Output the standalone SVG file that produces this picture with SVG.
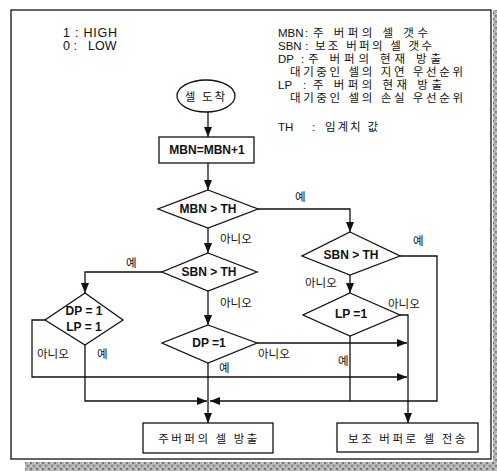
<svg xmlns="http://www.w3.org/2000/svg" width="497" height="471" viewBox="0 0 497 471">
<defs>
<marker id="ah" viewBox="0 0 10 8" refX="10" refY="4" markerWidth="10" markerHeight="8" markerUnits="userSpaceOnUse" orient="auto">
<path d="M0,0 L10,4 L0,8 Z" fill="#111"/>
</marker>
<pattern id="grain" width="6" height="6" patternUnits="userSpaceOnUse">
<rect width="6" height="6" fill="#b4b4b4"/>
<rect x="0" y="0" width="2" height="2" fill="#777"/>
<rect x="3" y="3" width="2" height="2" fill="#888"/>
<rect x="4" y="1" width="1" height="1" fill="#e0e0e0"/>
<rect x="1" y="4" width="1" height="1" fill="#dcdcdc"/>
</pattern>
</defs>
<style>
.t{font-family:"Liberation Sans","Noto Sans CJK KR",sans-serif;font-size:11.5px;fill:#111}
.h{font-family:"Liberation Sans",sans-serif;font-size:12.5px;fill:#111}
.b{font-family:"Liberation Sans","Noto Sans CJK KR",sans-serif;font-size:12px;font-weight:bold;fill:#111}
.l{font-family:"Noto Sans CJK KR","Liberation Sans",sans-serif;font-size:11.5px;fill:#111}
.s{fill:#fff;stroke:#111;stroke-width:1.3}
.c{fill:none;stroke:#111;stroke-width:1.3}
.a{marker-end:url(#ah)}
</style>
<rect width="497" height="471" fill="#fff"/>
<rect x="25" y="462" width="472" height="9" fill="url(#grain)"/>
<rect x="493" y="10" width="4" height="461" fill="url(#grain)"/>
<rect x="11" y="10" width="480" height="449" fill="none" stroke="#111" stroke-width="1.3"/>

<g id="legend">
<text class="h" x="63" y="37" textLength="54" lengthAdjust="spacing">1 : HIGH</text>
<text class="h" x="63" y="50">0 :</text><text class="h" x="88" y="50">LOW</text>
<text class="t" x="278" y="37">MBN</text><text class="t" x="305" y="37">:</text><text class="t" x="313" y="37" textLength="115" lengthAdjust="spacing">주 버퍼의 셀 갯수</text>
<text class="t" x="278" y="50">SBN</text><text class="t" x="305" y="50">:</text><text class="t" x="315" y="50" textLength="117" lengthAdjust="spacing">보조 버퍼의 셀 갯수</text>
<text class="t" x="278" y="63">DP</text><text class="t" x="301" y="63">:</text><text class="t" x="308" y="63" textLength="133" lengthAdjust="spacing">주 버퍼의 현재 방출</text>
<text class="t" x="290" y="76" textLength="173" lengthAdjust="spacing">대기중인 셀의 지연 우선순위</text>
<text class="t" x="278" y="89">LP</text><text class="t" x="303" y="89">:</text><text class="t" x="313" y="89" textLength="129" lengthAdjust="spacing">주 버퍼의 현재 방출</text>
<text class="t" x="290" y="102" textLength="173" lengthAdjust="spacing">대기중인 셀의 손실 우선순위</text>
<text class="t" x="278" y="131">TH</text><text class="t" x="312" y="131">:</text><text class="t" x="325" y="131" textLength="53" lengthAdjust="spacing">임계치 값</text>
</g>

<g id="connectors">
<path class="c a" d="M208,112 V137"/>
<path class="c a" d="M208,163 V190"/>
<path class="c a" d="M258,209 H350 V232"/>
<path class="c a" d="M208,228 V253"/>
<path class="c a" d="M162,272 H85 V293"/>
<path class="c a" d="M208,291 V325"/>
<path class="c a" d="M45,320 H32 V377 H407"/>
<path class="c a" d="M85,345 V401 H207"/>
<path class="c a" d="M257,343 H407"/>
<path class="c a" d="M208,363 V423"/>
<path class="c a" d="M400,256 H437 V401 H210"/>
<path class="c a" d="M350,275 V293"/>
<path class="c a" d="M400,315 H408 V423"/>
<path class="c" d="M350,336 V401"/>
</g>

<g id="n_start">
<ellipse class="s" cx="206" cy="96" rx="29" ry="16"/>
<text class="l" x="206" y="101" text-anchor="middle" letter-spacing="2">셀 도착</text>
</g>
<g id="n_inc">
<rect class="s" x="159" y="137" width="95" height="26"/>
<text class="b" x="207" y="154" text-anchor="middle">MBN=MBN+1</text>
</g>
<g id="d_mbn">
<polygon class="s" points="208,190 258,209 208,228 158,209"/>
<text class="b" x="208" y="213" text-anchor="middle">MBN &gt; TH</text>
</g>
<g id="d_sbn_left">
<polygon class="s" points="208,253 257,272 208,291 162,272"/>
<text class="b" x="209" y="276" text-anchor="middle">SBN &gt; TH</text>
</g>
<g id="d_sbn_right">
<polygon class="s" points="350,232 400,256 350,275 302,256"/>
<text class="b" x="351" y="259" text-anchor="middle">SBN &gt; TH</text>
</g>
<g id="d_dplp">
<polygon class="s" points="85,293 123,320 85,345 45,320"/>
<text class="b" x="84" y="315" text-anchor="middle">DP = 1</text>
<text class="b" x="84" y="331" text-anchor="middle">LP = 1</text>
</g>
<g id="d_dp">
<polygon class="s" points="208,325 257,343 208,363 162,343"/>
<text class="b" x="209" y="347" text-anchor="middle">DP =1</text>
</g>
<g id="d_lp">
<polygon class="s" points="350,293 400,315 350,336 303,315"/>
<text class="b" x="351" y="318" text-anchor="middle">LP =1</text>
</g>
<g id="n_main">
<rect class="s" x="143" y="423" width="130" height="30"/>
<text class="l" x="209" y="443" text-anchor="middle" letter-spacing="2.5">주버퍼의 셀 방출</text>
</g>
<g id="n_sub">
<rect class="s" x="337" y="423" width="141" height="29"/>
<text class="l" x="408" y="443" text-anchor="middle" letter-spacing="2.5">보조 버퍼로 셀 전송</text>
</g>

<g id="labels">
<text class="l" x="295" y="201">예</text>
<text class="l" x="220" y="243">아니오</text>
<text class="l" x="126" y="267">예</text>
<text class="l" x="220" y="307">아니오</text>
<text class="l" x="413" y="245">예</text>
<text class="l" x="305" y="287">아니오</text>
<text class="l" x="388" y="308">아니오</text>
<text class="l" x="338" y="365">예</text>
<text class="l" x="258" y="358">아니오</text>
<text class="l" x="219" y="372">예</text>
<text class="l" x="37" y="358">아니오</text>
<text class="l" x="97" y="358">예</text>
</g>
</svg>
